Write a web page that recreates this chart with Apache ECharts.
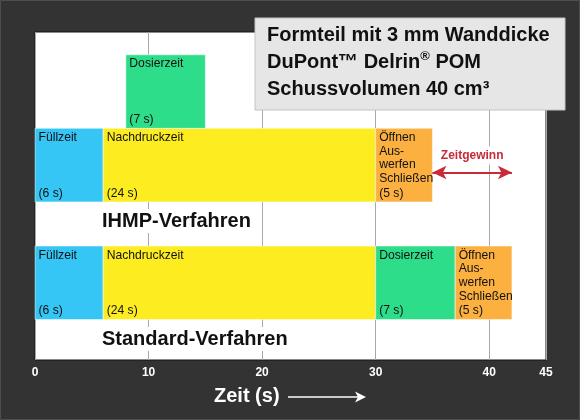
<!DOCTYPE html>
<html>
<head>
<meta charset="utf-8">
<script src="https://cdn.jsdelivr.net/npm/echarts@6/dist/echarts.min.js"></script>
<style>
  html, body { margin: 0; padding: 0; background: #333; }
  #chart { width: 580px; height: 420px; }
</style>
</head>
<body>
<div id="chart"></div>
<script>
// Phasen des Spritzgießzyklus
var phaseNames = ['Füllzeit', 'Nachdruckzeit', 'Dosierzeit', 'Öffnen\nAus-\nwerfen\nSchließen'];
var phaseColors = ['#35c6f5', '#fdec1f', '#2edd89', '#fbb040'];

// IHMP-Verfahren: Dosieren läuft parallel zum Nachdruck (obere Ebene)
var ihmpStart = [0, 6, 8, 30];
var ihmpSec = [6, 24, 7, 5];
var ihmpLevel = [0, 0, 1, 0];

// Standard-Verfahren: alles nacheinander
var stdStart = [0, 6, 30, 37];
var stdSec = [6, 24, 7, 5];

// Lage der beiden Zeilen auf der (versteckten) y-Achse
var laneStd = 0.55;
var laneIhmp = 2.15;

// schmale Schrift: Liberation Sans etwas gestaucht
var labelFont = '13.5px "Liberation Sans", Arial, sans-serif';
var boldFont = '"Liberation Sans", Arial, sans-serif';

var blocks = [];
function addBlocks(starts, secs, levels, lane) {
  for (var i = 0; i < starts.length; i++) {
    var y0 = lane + (levels ? levels[i] : 0);
    blocks.push({
      value: [starts[i], starts[i] + secs[i], y0, y0 + 1],
      name: phaseNames[i],
      sec: secs[i],
      color: phaseColors[i]
    });
  }
}
addBlocks(ihmpStart, ihmpSec, ihmpLevel, laneIhmp);
addBlocks(stdStart, stdSec, null, laneStd);

// Ende der Zyklen -> Zeitgewinn
var ihmpEnd = ihmpStart[3] + ihmpSec[3];
var stdEnd = stdStart[3] + stdSec[3];
var gainY = laneIhmp + 0.4;

function renderBlock(params, api) {
  var b = blocks[params.dataIndex];
  var p0 = api.coord([api.value(0), api.value(3)]);
  var p1 = api.coord([api.value(1), api.value(2)]);
  return {
    type: 'group',
    children: [{
      type: 'rect',
      shape: { x: p0[0], y: p0[1], width: p1[0] - p0[0], height: p1[1] - p0[1] },
      style: { fill: b.color, stroke: 'rgba(255,255,255,0.5)', lineWidth: 1 }
    }, {
      type: 'text',
      x: p0[0] + 3.5, y: p0[1] + 2, scaleX: 0.9,
      style: { text: b.name, fill: '#111', font: labelFont, lineHeight: 13.7, verticalAlign: 'top' }
    }, {
      type: 'text',
      x: p0[0] + 3.5, y: p1[1] - 2, scaleX: 0.9,
      style: { text: '(' + b.sec + ' s)', fill: '#111', font: labelFont, lineHeight: 13.7, verticalAlign: 'bottom' }
    }]
  };
}

var myChart = echarts.init(document.getElementById('chart'));
var option = {
  backgroundColor: '#333333',
  animation: false,
  grid: {
    left: 35, right: 34, top: 32, bottom: 60,
    show: true, backgroundColor: '#ffffff', borderColor: '#151515', borderWidth: 1
  },
  xAxis: {
    type: 'value', min: 0, max: 45, interval: 10,
    axisLine: { show: false }, axisTick: { show: false },
    axisLabel: { color: '#fff', fontWeight: 'bold', fontSize: 12, fontFamily: boldFont, margin: 7, showMaxLabel: true },
    splitLine: { lineStyle: { color: '#a8a8a8', width: 1 } }
  },
  yAxis: { type: 'value', min: 0, max: 4.46, show: false, splitLine: { show: false } },
  series: [{
    type: 'custom',
    renderItem: renderBlock,
    encode: { x: [0, 1], y: [2, 3] },
    data: blocks.map(function (b) { return b.value; }),
    markLine: {
      silent: true,
      symbol: ['arrow', 'arrow'],
      symbolSize: [10, 14],
      lineStyle: { color: '#c92a37', width: 2, type: 'solid' },
      label: {
        show: true, position: 'insideMiddleTop', formatter: 'Zeitgewinn',
        color: '#c92a37', fontWeight: 'bold', fontSize: 12, fontFamily: boldFont,
        distance: 8, backgroundColor: '#fff', padding: [3, 3]
      },
      data: [[{ coord: [ihmpEnd, gainY] }, { coord: [stdEnd, gainY] }]]
    }
  }],
  graphic: [
    { type: 'rect', shape: { x: 0.5, y: 0.5, width: 579, height: 419 }, style: { fill: 'none', stroke: '#4e4e4e', lineWidth: 1 } },
    { type: 'rect', shape: { x: 255, y: 18, width: 310, height: 92 }, style: { fill: '#e6e6e6', stroke: '#c4c4c4', lineWidth: 1 }, z: 10 },
    { type: 'text', x: 267, y: 35, z: 11, style: { text: 'Formteil mit 3 mm Wanddicke', fill: '#111', font: 'bold 20px ' + boldFont, verticalAlign: 'middle' } },
    { type: 'text', x: 267, y: 62, z: 11, style: {
      text: 'DuPont™ Delrin{sup|®} POM', fill: '#111', font: 'bold 20px ' + boldFont, verticalAlign: 'middle',
      rich: { sup: { fontSize: 13, fontWeight: 'bold', fontFamily: boldFont, fill: '#111', verticalAlign: 'top', lineHeight: 24 } }
    } },
    { type: 'text', x: 267, y: 89, z: 11, style: { text: 'Schussvolumen 40 cm³', fill: '#111', font: 'bold 20px ' + boldFont, verticalAlign: 'middle' } },
    { type: 'text', x: 100, y: 221, z: 11, style: { text: 'IHMP-Verfahren', fill: '#111', font: 'bold 20px ' + boldFont, verticalAlign: 'middle', backgroundColor: '#fff', padding: [2, 2] } },
    { type: 'text', x: 100, y: 339, z: 11, style: { text: 'Standard-Verfahren', fill: '#111', font: 'bold 20px ' + boldFont, verticalAlign: 'middle', backgroundColor: '#fff', padding: [2, 2] } },
    { type: 'text', x: 214, y: 396, z: 11, style: { text: 'Zeit (s)', fill: '#fff', font: 'bold 20px ' + boldFont, verticalAlign: 'middle' } },
    { type: 'line', z: 11, shape: { x1: 288, y1: 397, x2: 360, y2: 397 }, style: { stroke: '#fff', lineWidth: 1.5 } },
    { type: 'polygon', z: 11, shape: { points: [[366, 397], [355, 391.5], [358, 397], [355, 402.5]] }, style: { fill: '#fff' } }
  ]
};
myChart.setOption(option);
</script>
</body>
</html>
